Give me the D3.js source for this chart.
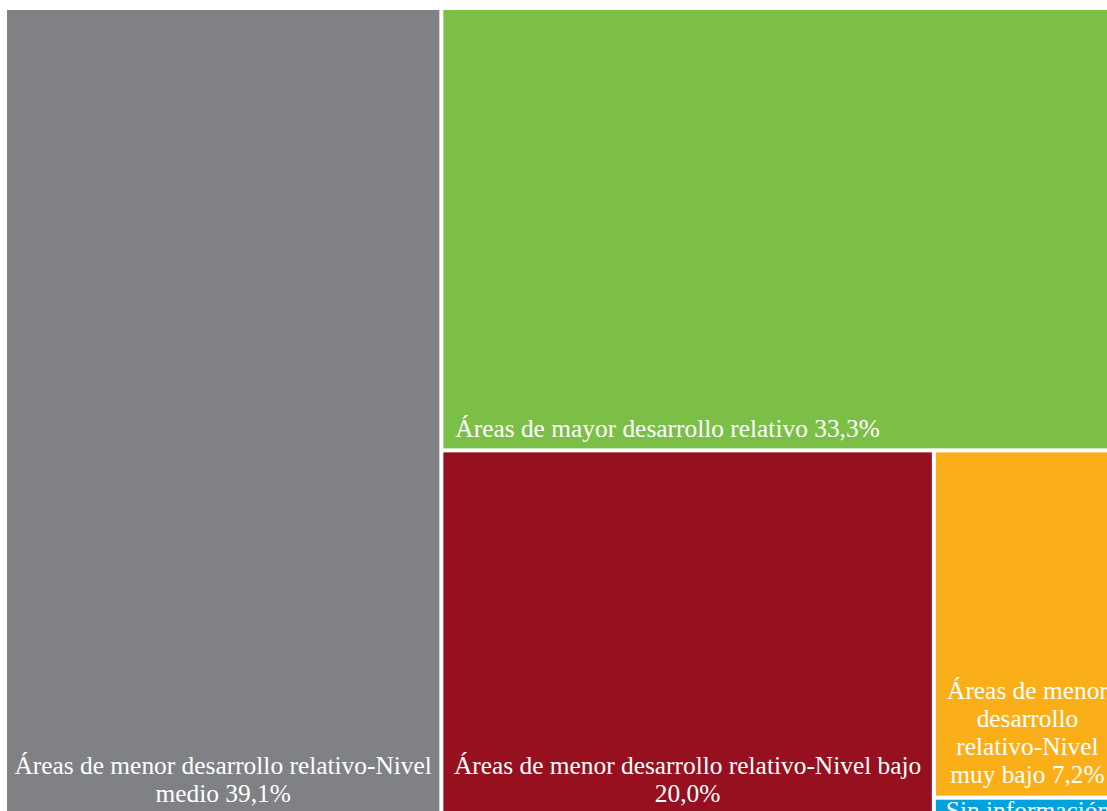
<!DOCTYPE html>
<html>
<head>
<meta charset="utf-8">
<script src="https://cdn.jsdelivr.net/npm/d3@7"></script>
<style>
  html, body { margin: 0; padding: 0; background: #ffffff; overflow: hidden; }
  svg { display: block; }
</style>
</head>
<body>
<svg id="chart" width="1107" height="811"></svg>
<script>
// ---- data ----
const categories = [
  "Áreas de menor desarrollo relativo-Nivel medio",
  "Áreas de mayor desarrollo relativo",
  "Áreas de menor desarrollo relativo-Nivel bajo",
  "Áreas de menor desarrollo relativo-Nivel muy bajo",
  "Sin información"
];
const values = [39.1, 33.3, 20.0, 7.2, 0.4];
const valueLabels = ["39,1%", "33,3%", "20,0%", "7,2%", "0,4%"];
const labelLines = [
  ["Áreas de menor desarrollo relativo-Nivel", "medio 39,1%"],
  ["Áreas de mayor desarrollo relativo 33,3%"],
  ["Áreas de menor desarrollo relativo-Nivel bajo", "20,0%"],
  ["Áreas de menor", "desarrollo", "relativo-Nivel", "muy bajo 7,2%"],
  ["Sin información", "0,4%"]
];
const colors = ["#808184", "#7BBF46", "#97101F", "#FAAF19", "#00A2DB"];

// ---- layout ----
const svg = d3.select("#chart");
const X0 = 7, Y0 = 10, W = 1112, H = 805, GAP = 4;

const root = d3.hierarchy({
  children: categories.map((c, i) => ({ name: c, value: values[i], idx: i }))
}).sum(d => d.value || 0).sort((a, b) => b.value - a.value);

d3.treemap()
  .tile(d3.treemapSquarify.ratio(1))
  .size([W, H])
  .paddingInner(GAP)
  .round(false)(root);

const g = svg.append("g").attr("transform", `translate(${X0},${Y0})`);
const leaves = root.leaves();

const defs = svg.append("defs");
leaves.forEach((d, i) => {
  defs.append("clipPath").attr("id", "clip" + i)
    .append("rect")
    .attr("x", d.x0).attr("y", d.y0)
    .attr("width", d.x1 - d.x0).attr("height", d.y1 - d.y0);
});

const cell = g.selectAll("g.cell").data(leaves).enter().append("g").attr("class", "cell");

cell.append("rect")
  .attr("x", d => d.x0).attr("y", d => d.y0)
  .attr("width", d => d.x1 - d.x0).attr("height", d => d.y1 - d.y0)
  .attr("fill", d => colors[d.data.idx]);

const FS = 25.4, LH = 28;
cell.each(function(d, i) {
  const k = d.data.idx;
  const lines = labelLines[k];
  const sel = d3.select(this).append("g").attr("clip-path", `url(#clip${i})`);
  const text = sel.append("text")
    .attr("fill", "#ffffff")
    .attr("font-family", "'Liberation Serif', 'Times New Roman', serif")
    .attr("font-size", FS);
  let anchor, x, yStart;
  if (k === 1) {
    anchor = "start"; x = d.x0 + 12;
    yStart = d.y1 - 11 - (lines.length - 1) * LH;
  } else if (k === 4) {
    anchor = "start"; x = d.x0 + 10;
    yStart = d.y0 + 19;
  } else {
    anchor = "middle"; x = (d.x0 + d.x1) / 2;
    yStart = d.y1 - 13 - (lines.length - 1) * LH;
  }
  text.attr("text-anchor", anchor);
  lines.forEach((ln, j) => {
    text.append("tspan").attr("x", x).attr("y", yStart + j * LH).text(ln);
  });
});
</script>
</body>
</html>
